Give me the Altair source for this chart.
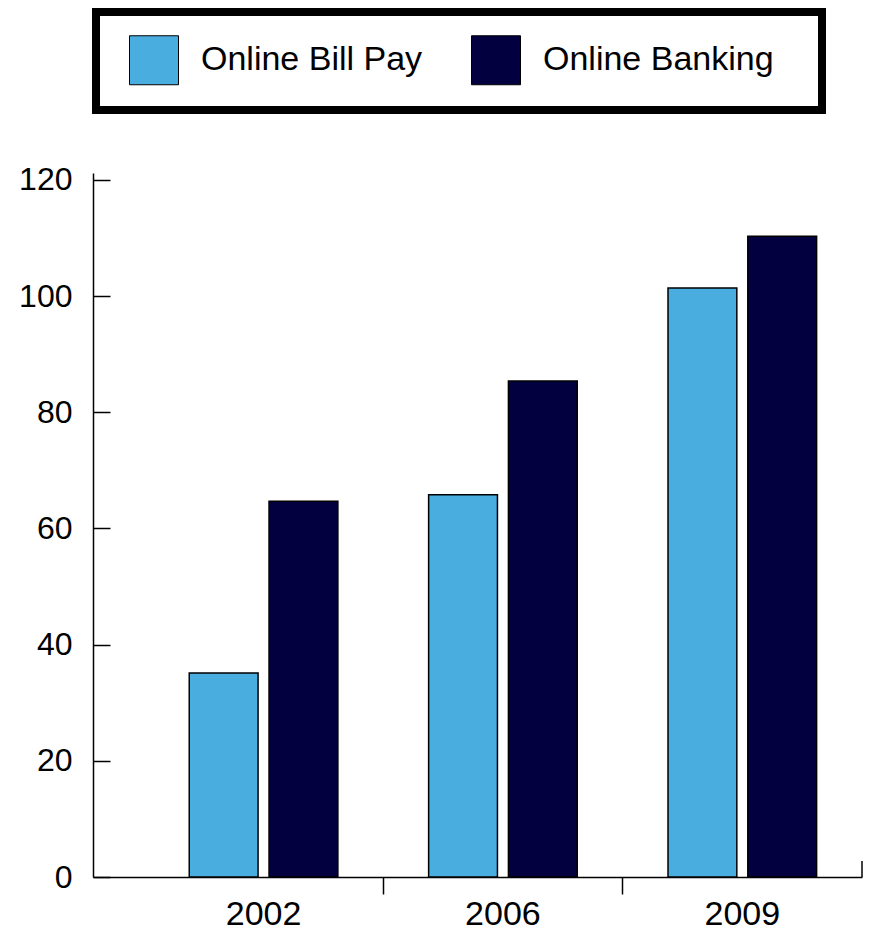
import altair as alt
import pandas as pd

years = ["2002", "2006", "2009"]
series = ["Online Bill Pay", "Online Banking"]
bill_pay = [35.1, 65.8, 101.4]
banking = [64.7, 85.4, 110.3]
colors = ["#4AADDF", "#03003F"]
y_ticks = [0, 20, 40, 60, 80, 100, 120]

rows = []
for i, yr in enumerate(years):
    rows.append({"year": yr, "series": series[0], "value": bill_pay[i]})
    rows.append({"year": yr, "series": series[1], "value": banking[i]})
df = pd.DataFrame(rows)

W = 769
H = 704
FONT = "Liberation Sans"

yscale = alt.Scale(domain=[0, 121.2], nice=False, zero=True)

bars = alt.Chart(df).mark_bar(stroke="black", strokeWidth=1.5).encode(
    x=alt.X(
        "year:N",
        sort=years,
        title=None,
        scale=alt.Scale(paddingInner=0, paddingOuter=0.10625, align=1),
        axis=alt.Axis(
            bandPosition=0,
            labelAngle=0,
            labelFontSize=34,
            labelFont=FONT,
            labelColor="black",
            labelPadding=3,
            tickSize=17,
            tickWidth=1.5,
            tickColor=alt.condition("datum.value == '2002'", alt.value("transparent"), alt.value("black")),
            domainColor="black",
            domainWidth=1.5,
            grid=False,
        ),
    ),
    xOffset=alt.XOffset(
        "series:N",
        sort=series,
        scale=alt.Scale(paddingInner=0.1375, paddingOuter=0.56875),
    ),
    y=alt.Y(
        "value:Q",
        scale=yscale,
        title=None,
        axis=alt.Axis(
            values=y_ticks,
            ticks=False,
            tickSize=0,
            labelFontSize=32,
            labelFont=FONT,
            labelColor="black",
            labelPadding=21,
            domainColor="black",
            domainWidth=1.5,
            grid=False,
        ),
    ),
    color=alt.Color(
        "series:N",
        sort=series,
        scale=alt.Scale(domain=series, range=colors),
        legend=alt.Legend(
            title="\u00a0",
            titleOrient="left",
            titleFontSize=10,
            titlePadding=10,
            orient="none",
            direction="horizontal",
            legendX=3,
            legendY=-161,
            symbolType="square",
            symbolSize=2401,
            symbolStrokeColor="black",
            symbolStrokeWidth=1,
            symbolOpacity=1,
            labelFontSize=34,
            labelFont=FONT,
            labelColor="black",
            labelOffset=22,
            labelLimit=600,
            labelExpr="datum.label == 'Online Banking' ? datum.label + '\u2800' : datum.label",
            columnPadding=46,
            padding=23,
            strokeColor="black",
            fillColor="white",
        ),
    ),
)

inner_ticks = alt.Chart(df).mark_point(opacity=0).encode(
    y=alt.Y(
        "value:Q",
        scale=yscale,
        title=None,
        axis=alt.Axis(
            orient="right",
            offset=-W,
            values=y_ticks,
            labels=False,
            domain=False,
            tickSize=17,
            tickWidth=1.5,
            tickColor="black",
            grid=False,
        ),
    )
)

end_tick = alt.Chart(pd.DataFrame({"a": [0]})).mark_rule(color="black", strokeWidth=1.5).encode(
    x=alt.value(W), y=alt.value(H), y2=alt.value(H - 16)
)

chart = (
    alt.layer(bars, inner_ticks, end_tick)
    .resolve_axis(y="independent")
    .properties(width=W, height=H, padding={"left": 10, "top": 0, "right": 5, "bottom": 0})
    .configure_view(stroke=None)
    .configure_legend(strokeWidth=8)
)

chart.save("out.html", embed_options={"renderer": "svg", "actions": False})
